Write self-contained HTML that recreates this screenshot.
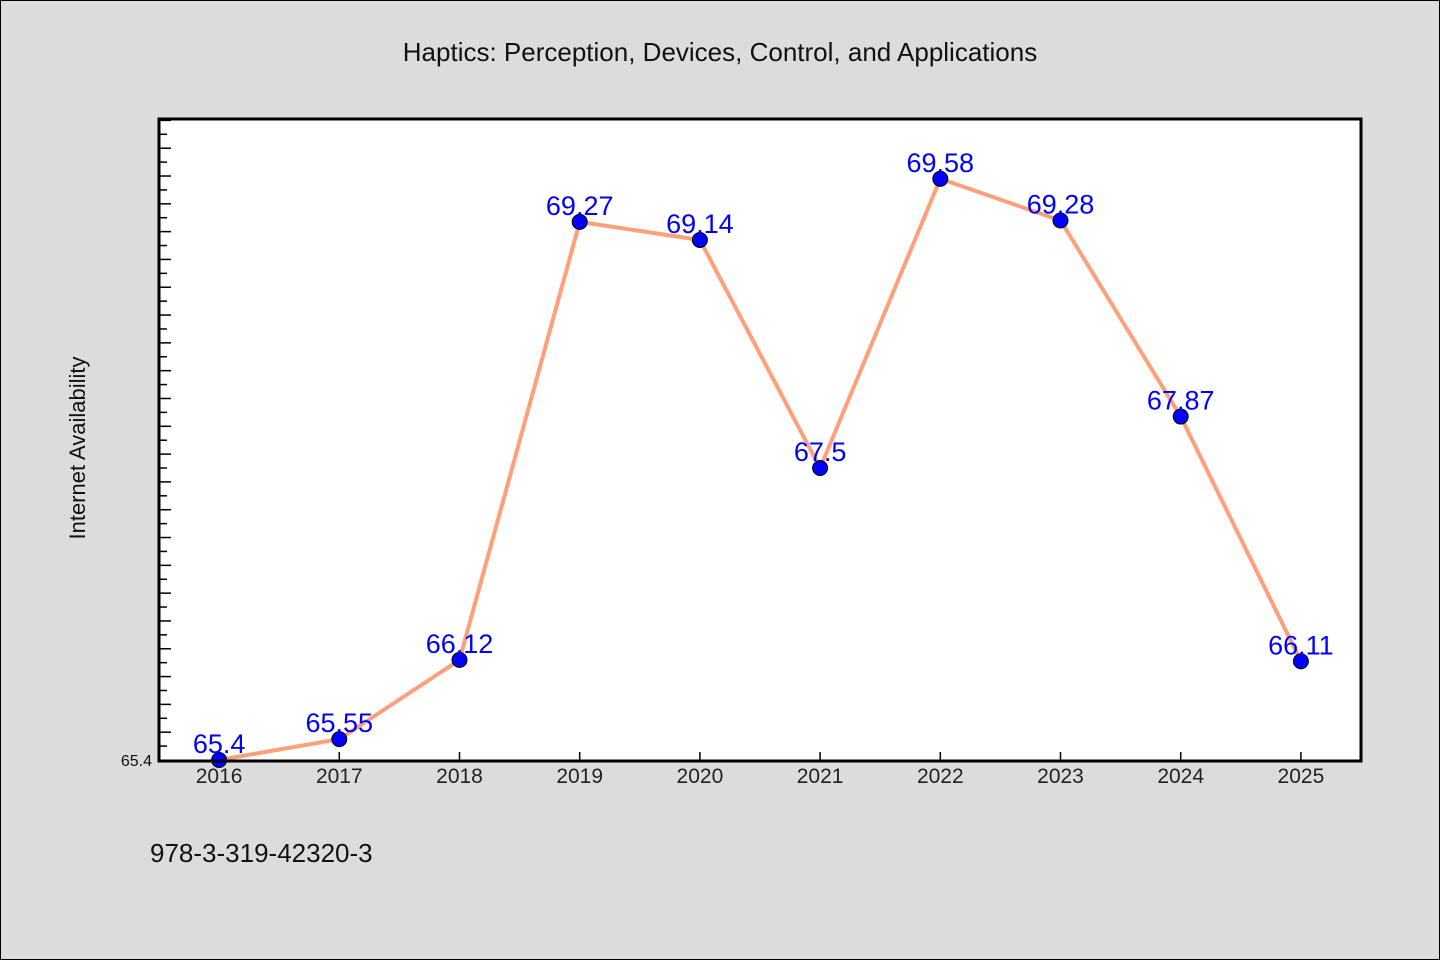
<!DOCTYPE html>
<html><head><meta charset="utf-8"><style>
body{margin:0;background:#dcdcdc;}
svg{display:block;font-family:"WenQuanYi Zen Hei","Liberation Sans",sans-serif;}
</style></head><body>
<svg id="c" width="1440" height="960">
<rect x="0.5" y="0.5" width="1439" height="959" fill="#dcdcdc" stroke="#000"/>
<text x="720" y="61" text-anchor="middle" font-size="26" fill="#111">Haptics: Perception, Devices, Control, and Applications</text>
<rect x="159" y="119" width="1202" height="642" fill="#fff"/>
<g id="ticks"></g>
<g id="series"></g>
<rect x="159" y="119" width="1202" height="642" fill="none" stroke="#000" stroke-width="3"/>
<text transform="translate(85,448) rotate(-90)" text-anchor="middle" font-size="22" fill="#111">Internet Availability</text>
<text x="150" y="862" font-size="26" fill="#111">978-3-319-42320-3</text>
</svg>
<script>
const categories=["2016","2017","2018","2019","2020","2021","2022","2023","2024","2025"];
const values=[65.4,65.55,66.12,69.27,69.14,67.5,69.58,69.28,67.87,66.11];
const labels=["65.4","65.55","66.12","69.27","69.14","67.5","69.58","69.28","67.87","66.11"];
const yMin=65.4,yMax=70.01;
const NS="http://www.w3.org/2000/svg";
const L=159,R=1361,T=119,B=760;
function xs(i){return L+(i+0.5)*(R-L)/categories.length;}
function ys(v){return B-(v-yMin)/(yMax-yMin)*(B-T);}
function mk(t,a,p){const e=document.createElementNS(NS,t);for(const k in a)e.setAttribute(k,a[k]);p.appendChild(e);return e;}
const tg=document.getElementById('ticks'),sg=document.getElementById('series');
for(let k=1;;k++){const v=yMin+k*0.1;if(v>yMax)break;const y=ys(v);
const t=mk('line',{x1:L,x2:L+(k%2==0?12:8),y1:y,y2:y,stroke:'#000','stroke-width':1.5},tg);

}
const yl=mk('text',{x:152,y:B+6,'text-anchor':'end','font-size':16,fill:'#111'},tg);yl.textContent=yMin.toFixed(1);


categories.forEach((c,i)=>{const x=xs(i);
const t=mk('line',{x1:x,x2:x,y1:B,y2:B-8,stroke:'#000','stroke-width':1.5},tg);


const l=mk('text',{x:x,y:B+23,'text-anchor':'middle','font-size':21,fill:'#222'},tg);l.textContent=c;

});
const pl=mk('polyline',{points:values.map((v,i)=>xs(i)+','+ys(v)).join(' '),fill:'none',stroke:'#ffa07a','stroke-width':4},sg);


values.forEach((v,i)=>{
const p=mk('circle',{cx:xs(i),cy:ys(v),r:7.5,fill:'#0000ff',stroke:'#000','stroke-width':1},sg);


const t=mk('text',{x:xs(i),y:ys(v)-7,'text-anchor':'middle','font-size':27,fill:'#0000ff'},sg);t.textContent=labels[i];

});
</script>
</body></html>
